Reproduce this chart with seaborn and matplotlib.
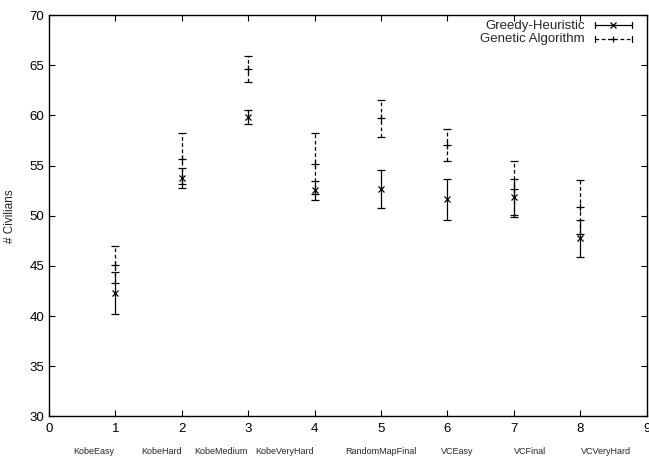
import matplotlib
matplotlib.use("Agg")
import matplotlib.pyplot as plt
import matplotlib.transforms as mtransforms
from matplotlib.legend_handler import HandlerBase
from matplotlib.lines import Line2D
import seaborn as sns

# map names and results (mean, std)
maps = ["KobeEasy", "KobeHard", "KobeMedium", "KobeVeryHard",
        "RandomMapFinal", "VCEasy", "VCFinal", "VCVeryHard"]
map_ids = [1, 2, 3, 4, 5, 6, 7, 8]

greedy_mean = [42.3, 53.8, 59.8, 52.55, 52.7, 51.65, 51.9, 47.75]
greedy_err = [2.05, 1.0, 0.7, 0.95, 1.9, 2.05, 1.8, 1.85]

genetic_mean = [45.1, 55.7, 64.65, 55.2, 59.7, 57.05, 52.65, 50.9]
genetic_err = [1.85, 2.5, 1.3, 3.05, 1.85, 1.55, 2.8, 2.7]

# where the map names sit under the axis (layout only)
name_x = [0.68, 1.69, 2.59, 3.55, 4.99, 6.14, 7.25, 8.38]

DASH = (0, (3, 2))


class HorizErrHandler(HandlerBase):
    # gnuplot-like key: horizontal bar with end caps and the point marker
    def __init__(self, marker, ls, ms):
        super().__init__()
        self.marker, self.ls, self.ms = marker, ls, ms

    def create_artists(self, legend, orig, xd, yd, w, h, fs, trans):
        y = yd + h / 2
        cap = h * 0.35
        arts = [
            Line2D([xd, xd + w], [y, y], color="black", lw=0.9, ls=self.ls),
            Line2D([xd, xd], [y - cap, y + cap], color="black", lw=0.9),
            Line2D([xd + w, xd + w], [y - cap, y + cap], color="black", lw=0.9),
            Line2D([xd + w / 2], [y], marker=self.marker, ms=self.ms, mew=0.9,
                   color="black", ls="none"),
        ]
        for a in arts:
            a.set_transform(trans)
        return arts


sns.set_style("ticks")
plt.rcParams["font.family"] = ["Liberation Sans", "DejaVu Sans"]

fig = plt.figure(figsize=(6.49, 4.57), dpi=100)
ax = fig.add_axes([0.0755, 0.089, 0.921, 0.878])

eb1 = ax.errorbar(map_ids, greedy_mean, yerr=greedy_err, fmt="x", color="black",
                  ecolor="black", markersize=5, mew=0.9, elinewidth=0.9,
                  capsize=3.2, capthick=0.9)
eb2 = ax.errorbar(map_ids, genetic_mean, yerr=genetic_err, fmt="+", color="black",
                  ecolor="black", markersize=6, mew=0.9, elinewidth=0.9,
                  capsize=3.2, capthick=0.9)
eb2[2][0].set_linestyle(DASH)

ax.set_xlim(0, 9)
ax.set_ylim(30, 70)
ax.set_xticks(range(0, 10))
ax.set_yticks(range(30, 71, 5))
ax.tick_params(direction="in", top=True, right=True, length=4, width=0.8,
               labelsize=9.5, colors="black")
ax.tick_params(axis="x", pad=5)
for s in ax.spines.values():
    s.set_linewidth(1.0)
    s.set_color("black")
ax.set_ylabel("# Civilians", fontsize=8.5)
ax.yaxis.set_label_coords(-0.055, 0.5)

trans = mtransforms.blended_transform_factory(ax.transData, ax.transAxes)
for nx, name in zip(name_x, maps):
    ax.text(nx, -0.077, name, transform=trans, ha="center", va="top", fontsize=6.5)

h1 = Line2D([], [], color="black")
h2 = Line2D([], [], color="black")
ax.legend([h1, h2], ["Greedy-Heuristic", "Genetic Algorithm"],
          handler_map={h1: HorizErrHandler("x", "-", 4.5),
                       h2: HorizErrHandler("+", DASH, 5)},
          loc="upper right", bbox_to_anchor=(0.975, 0.988), frameon=False,
          markerfirst=False, fontsize=9.5, handlelength=2.8, handleheight=0.6,
          borderaxespad=0, borderpad=0, labelspacing=0.12, handletextpad=0.75)

fig.savefig("out.png", dpi=100)
